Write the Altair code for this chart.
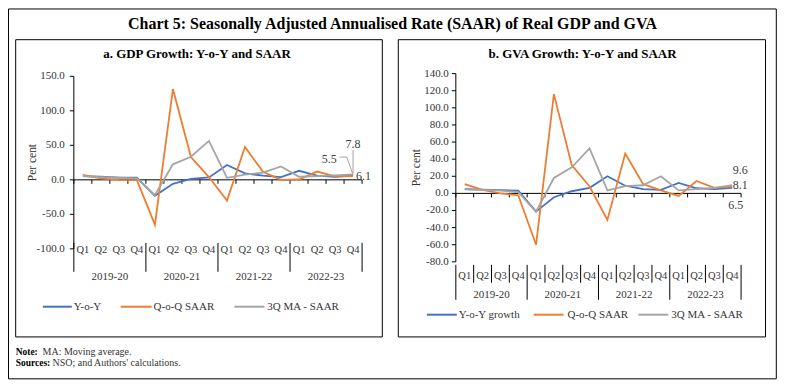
import altair as alt
import pandas as pd

FONT = "Liberation Serif"
W, H = 771, 372

TITLE = "Chart 5: Seasonally Adjusted Annualised Rate (SAAR) of Real GDP and GVA"
gdp_title = "a. GDP Growth: Y-o-Y and SAAR"
gva_title = "b. GVA Growth: Y-o-Y and SAAR"
note_bold = ["Note:", "Sources:"]
note_text = ["MA: Moving average.", "NSO; and Authors' calculations."]
y_title = "Per cent"

quarters = ["Q1", "Q2", "Q3", "Q4"] * 4
years = ["2019-20", "2020-21", "2021-22", "2022-23"]

gdp_names = ["Y-o-Y", "Q-o-Q SAAR", "3Q MA - SAAR"]
gdp_yoy = [5.4, 4.6, 3.3, 3.0, -23.1, -5.7, 1.4, 3.5, 21.6, 9.5, 6.0, 4.0, 13.1, 6.2, 4.5, 6.1]
gdp_qoq = [7.0, 2.0, 0.0, -0.5, -65.0, 131.5, 33.0, 4.0, -30.0, 47.5, 11.5, 0.0, 0.5, 12.0, 5.0, 5.5]
gdp_ma = [5.5, 4.0, 3.0, 2.0, -22.0, 22.5, 33.5, 56.5, 3.0, 7.5, 10.5, 19.5, 4.5, 5.5, 6.5, 7.8]
gdp_ticks = [-100, -50, 0, 50, 100, 150]

gva_names = ["Y-o-Y growth", "Q-o-Q SAAR", "3Q MA - SAAR"]
gva_yoy = [5.0, 4.3, 3.8, 3.2, -21.3, -4.5, 2.5, 6.5, 20.0, 9.0, 5.0, 4.2, 12.2, 6.0, 5.0, 6.5]
gva_qoq = [10.8, 4.0, 0.0, -2.2, -60.0, 116.0, 33.0, 8.0, -31.0, 46.5, 11.0, 3.5, -3.0, 14.5, 6.5, 8.1]
gva_ma = [4.8, 4.0, 3.2, 1.5, -21.5, 18.0, 30.5, 52.5, 3.5, 8.5, 9.5, 20.0, 3.5, 5.0, 6.5, 9.6]
gva_ticks = [-80, -60, -40, -20, 0, 20, 40, 60, 80, 100, 120, 140]

colors = ["#4472C4", "#ED7D31", "#A5A5A5"]
TXT = "#333333"


def label(text, x, y, size, weight="normal", align="center", color="#000", angle=0):
    return alt.Chart(pd.DataFrame({"t": [text]})).mark_text(
        font=FONT, fontSize=size, fontWeight=weight, align=align,
        baseline="middle", color=color, angle=angle).encode(
        x=alt.value(x), y=alt.value(y), text="t:N")


def series_frame(names, cols):
    rows = []
    for name, vals in zip(names, cols):
        for i, v in enumerate(vals):
            rows.append({"pos": i + 0.5, "value": v, "series": name})
    return pd.DataFrame(rows)


def panel(names, cols, cfg, end_labels, leaders):
    xs = alt.Scale(domain=[0, 16], range=cfg["xr"], nice=False, zero=False)
    ys = alt.Scale(domain=cfg["ydom"], range=cfg["yr"], nice=False, zero=False)
    cs = alt.Scale(domain=names, range=colors)
    ax = cfg["xr"][0]
    zy = cfg["zero_y"]
    layers = []

    # y axis: line, ticks, labels, title
    ydf = pd.DataFrame({"a": [cfg["ydom"][0]], "b": [cfg["ydom"][1]]})
    layers.append(alt.Chart(ydf).mark_rule(color="#000", strokeWidth=1).encode(
        x=alt.value(ax), y=alt.Y("a:Q", scale=ys, axis=None), y2="b:Q"))
    tdf = pd.DataFrame({"v": cfg["ticks"], "t": [f"{t:.1f}" for t in cfg["ticks"]]})
    layers.append(alt.Chart(tdf).mark_rule(color="#000", strokeWidth=1).encode(
        x=alt.value(ax - 4), x2=alt.value(ax), y=alt.Y("v:Q", scale=ys, axis=None)))
    layers.append(alt.Chart(tdf).mark_text(
        font=FONT, fontSize=11, color=TXT, align="right", baseline="middle").encode(
        x=alt.value(ax - 4 - cfg["lpad"]), y=alt.Y("v:Q", scale=ys, axis=None), text="t:N"))
    layers.append(label(y_title, ax + cfg["title_x"], sum(cfg["yr"]) / 2, 11.5,
                        color=TXT, angle=270))

    # x axis at zero with ticks
    zdf = pd.DataFrame({"a": [0], "b": [16], "z": [0]})
    layers.append(alt.Chart(zdf).mark_rule(color="#000", strokeWidth=1).encode(
        x=alt.X("a:Q", scale=xs, axis=None), x2="b:Q",
        y=alt.Y("z:Q", scale=ys, axis=None)))
    xtdf = pd.DataFrame({"pos": list(range(17))})
    layers.append(alt.Chart(xtdf).mark_rule(color="#000", strokeWidth=1).encode(
        x=alt.X("pos:Q", scale=xs, axis=None), y=alt.value(zy), y2=alt.value(zy + 4)))

    # category labels and separators
    qdf = pd.DataFrame({"pos": [i + 0.5 for i in range(16)], "q": quarters})
    layers.append(alt.Chart(qdf).mark_text(font=FONT, fontSize=10.5, color=TXT,
                                           baseline="middle", align="center").encode(
        x=alt.X("pos:Q", scale=xs, axis=None), y=alt.value(cfg["q_y"]), text="q:N"))
    ydf2 = pd.DataFrame({"pos": [2, 6, 10, 14], "yr": years})
    layers.append(alt.Chart(ydf2).mark_text(font=FONT, fontSize=11, color=TXT,
                                            baseline="middle", align="center").encode(
        x=alt.X("pos:Q", scale=xs, axis=None), y=alt.value(cfg["yr_y"]), text="yr:N"))
    sdf = pd.DataFrame({"pos": [0, 4, 8, 12, 16]})
    layers.append(alt.Chart(sdf).mark_rule(color="#000", strokeWidth=1).encode(
        x=alt.X("pos:Q", scale=xs, axis=None),
        y=alt.value(cfg["sep_top"]), y2=alt.value(cfg["sep_bot"])))
    if cfg.get("qsep_bot"):
        qsdf = pd.DataFrame({"pos": [i for i in range(1, 16) if i % 4 != 0]})
        layers.append(alt.Chart(qsdf).mark_rule(color="#000", strokeWidth=1).encode(
            x=alt.X("pos:Q", scale=xs, axis=None),
            y=alt.value(cfg["sep_top"]), y2=alt.value(cfg["qsep_bot"])))

    # leader lines for end labels
    for pts in leaders:
        ldf = pd.DataFrame({"pos": [p[0] for p in pts], "value": [p[1] for p in pts],
                            "k": list(range(len(pts)))})
        layers.append(alt.Chart(ldf).mark_line(color="#A5A5A5", strokeWidth=1).encode(
            x=alt.X("pos:Q", scale=xs, axis=None),
            y=alt.Y("value:Q", scale=ys, axis=None), order="k:Q"))

    # series lines
    df = series_frame(names, cols)
    layers.append(alt.Chart(df).mark_line(strokeWidth=1.8).encode(
        x=alt.X("pos:Q", scale=xs, axis=None),
        y=alt.Y("value:Q", scale=ys, axis=None),
        color=alt.Color("series:N", scale=cs, legend=None),
        order=alt.Order("pos:Q")))

    # end labels
    for val, dx, dy, align in end_labels:
        edf = pd.DataFrame({"pos": [15.5], "value": [val], "t": [f"{val:.1f}"]})
        layers.append(alt.Chart(edf).mark_text(
            font=FONT, fontSize=12, color="#404040", dx=dx, dy=dy,
            align=align, baseline="middle").encode(
            x=alt.X("pos:Q", scale=xs, axis=None),
            y=alt.Y("value:Q", scale=ys, axis=None), text="t:N"))

    # legend
    ly = cfg["ly"]
    for name, (s0, s1, tx) in zip(names, cfg["legend"]):
        gdf = pd.DataFrame({"series": [name]})
        layers.append(alt.Chart(gdf).mark_rule(strokeWidth=2).encode(
            x=alt.value(s0), x2=alt.value(s1), y=alt.value(ly),
            color=alt.Color("series:N", scale=cs, legend=None)))
        layers.append(alt.Chart(gdf).mark_text(
            font=FONT, fontSize=11, color=TXT, align="left", baseline="middle").encode(
            x=alt.value(tx), y=alt.value(ly), text="series:N"))

    return alt.layer(*layers)


gdp_cfg = dict(xr=[66, 355], yr=[241, 68], ydom=[-100, 150], ticks=gdp_ticks,
               zero_y=171.8, lpad=5, title_x=-41,
               q_y=242, yr_y=269, sep_top=235, sep_bot=264,
               ly=299, legend=[(35, 64, 66), (113, 144, 146), (227, 257, 260)])
gva_cfg = dict(xr=[449, 735], yr=[254, 65.3], ydom=[-80, 140], ticks=gva_ticks,
               zero_y=185.4, lpad=3, title_x=-39,
               q_y=268.7, yr_y=287, sep_top=257, sep_bot=292, qsep_bot=275,
               ly=307, legend=[(420, 450, 452), (527, 557, 561), (632, 662, 665)])

gdp = panel(gdp_names, [gdp_yoy, gdp_qoq, gdp_ma], gdp_cfg,
            [(gdp_ma[-1], 0, -31, "center"), (gdp_qoq[-1], -24, -17, "center"),
             (gdp_yoy[-1], 3, 0, "left")],
            [[(15.5, 43), (15.5, 9.5)], [(14.75, 33), (15.15, 33), (15.5, 7.5)]])
gva = panel(gva_names, [gva_yoy, gva_qoq, gva_ma], gva_cfg,
            [(gva_ma[-1], 8, -15.7, "center"), (gva_qoq[-1], 8, -1.5, "center"),
             (gva_yoy[-1], 3.5, 17, "center")],
            [])


one = pd.DataFrame({"t": [""]})


def box(x1, x2, y1, y2):
    return alt.Chart(one).mark_rect(filled=False, stroke="#000", strokeWidth=1).encode(
        x=alt.value(x1), x2=alt.value(x2), y=alt.value(y1), y2=alt.value(y2))


decor = alt.layer(
    box(0.5, 770.3, 0.5, 371.3),
    box(7.7, 375.3, 31.3, 329.3),
    box(391.3, 759.5, 31.3, 329.3),
    label(TITLE, 385.5, 16, 16, "bold"),
    label(gdp_title, 189.5, 46, 13, "bold"),
    label(gva_title, 576, 46, 13, "bold"),
    label(note_bold[0], 7.7, 344, 9.5, "bold", "left"),
    label(note_text[0], 34.7, 344, 10, "normal", "left", TXT),
    label(note_bold[1], 7.7, 355, 9.5, "bold", "left"),
    label(note_text[1], 44.7, 355, 10, "normal", "left", TXT),
)

chart = alt.layer(gdp, gva, decor).resolve_scale(
    x="independent", y="independent", color="independent"
).properties(
    width=W, height=H, padding=0, autosize=alt.AutoSizeParams(type="none")
).configure_view(stroke=None)

chart.save("out.html", embed_options={"renderer": "svg", "actions": False})
